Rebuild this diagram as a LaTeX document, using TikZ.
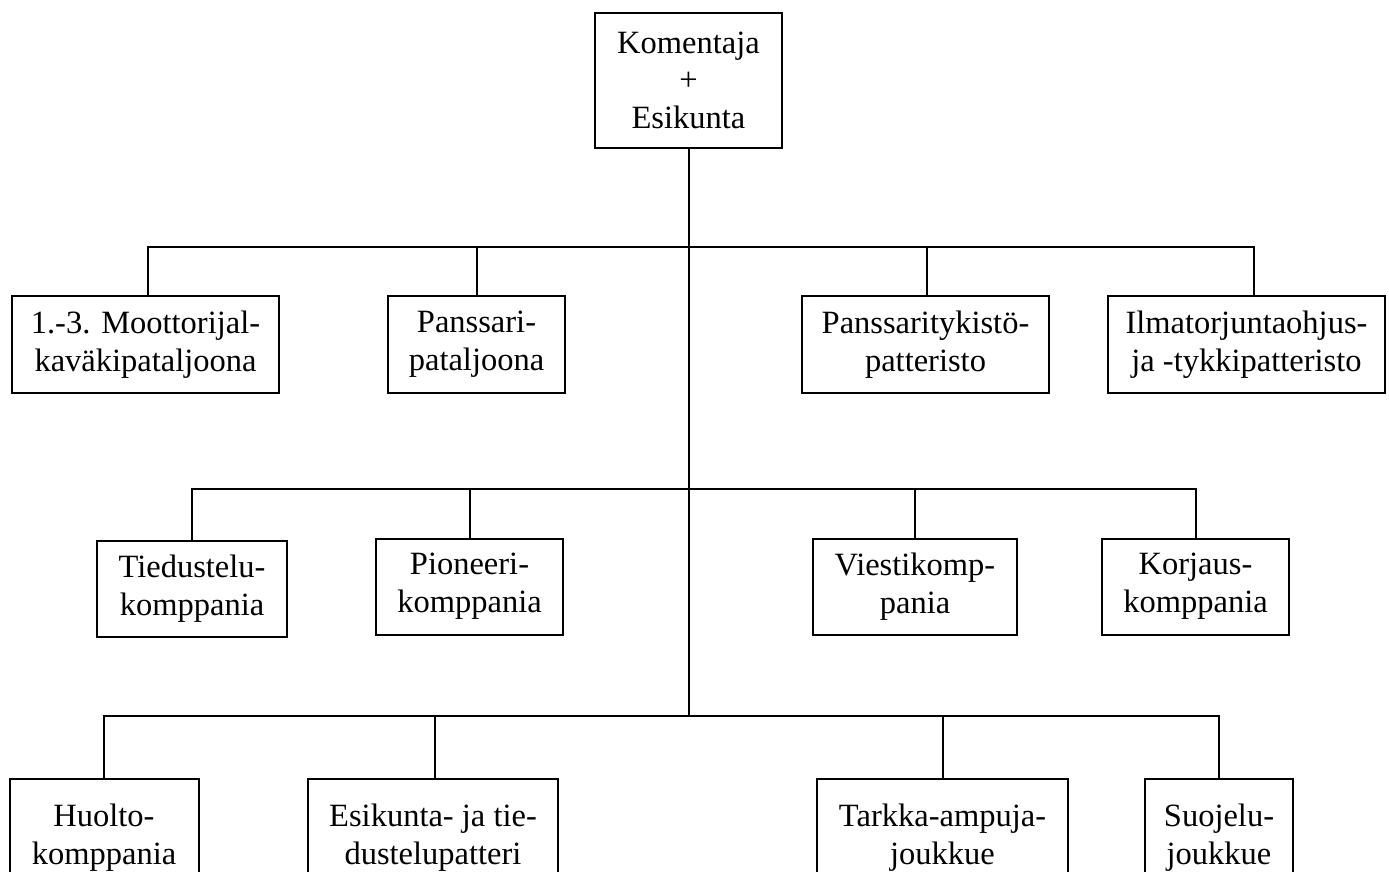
\documentclass[tikz,border=0pt]{standalone}
\usepackage{fontspec}
\setmainfont{Liberation Serif}
\begin{document}
\begin{tikzpicture}[x=1pt,y=-1pt,
  box/.style={draw, line width=2pt, align=center, inner sep=0pt, font=\fontsize{32.5}{38}\selectfont},
  conn/.style={line width=2pt}]
\useasboundingbox (0,0) rectangle (1389,872);
% top
\node[box, minimum width=187pt, minimum height=135pt, font=\fontsize{32.5}{37.5}\selectfont] (top) at (688.5,80.3) {Komentaja\\+\\Esikunta};
% row 1
\node[box, minimum width=267pt, minimum height=97pt] (a) at (145.5,344.5) {1.-3. Moottorijal-\\kaväkipataljoona};
\node[box, minimum width=177pt, minimum height=97pt] (b) at (476.5,344.5) {Panssari-\\pataljoona};
\node[box, minimum width=247pt, minimum height=97pt] (c) at (925.5,344.5) {Panssaritykistö-\\patteristo};
\node[box, minimum width=277pt, minimum height=97pt] (d) at (1246.5,344.5) {Ilmatorjuntaohjus-\\ja -tykkipatteristo};
% row 2
\node[box, minimum width=190pt, minimum height=96pt] (e) at (192,589) {Tiedustelu-\\komppania};
\node[box, minimum width=187pt, minimum height=96pt] (f) at (469.5,586.5) {Pioneeri-\\komppania};
\node[box, minimum width=204pt, minimum height=96pt] (g) at (915,586.5) {Viestikomp-\\pania};
\node[box, minimum width=187pt, minimum height=96pt] (h) at (1195.5,586.5) {Korjaus-\\komppania};
% row 3
\node[box, minimum width=189pt, minimum height=118pt] (i) at (104,838) {Huolto-\\komppania};
\node[box, minimum width=250pt, minimum height=118pt] (j) at (433,838) {Esikunta- ja tie-\\dustelupatteri};
\node[box, minimum width=251pt, minimum height=118pt] (k) at (942.5,838) {Tarkka-ampuja-\\joukkue};
\node[box, minimum width=148pt, minimum height=118pt] (l) at (1219,838) {Suojelu-\\joukkue};
% bus coordinates
\coordinate (b1) at (688.5,247);
\coordinate (b2) at (688.5,489);
\coordinate (b3) at (688.5,716);
% trunk
\draw[conn] (top.south) -- (top.south |- b3);
% row 1 connectors
\draw[conn] ([xshift=2.5pt]a.north) |- (b1) -| ([xshift=7.5pt]d.north);
\draw[conn] (b.north) -- (b.north |- b1);
\draw[conn] ([xshift=1.5pt]c.north) -- ([xshift=1.5pt]c.north |- b1);
% row 2 connectors
\draw[conn] (e.north) |- (b2) -| (h.north);
\draw[conn] (f.north) -- (f.north |- b2);
\draw[conn] (g.north) -- (g.north |- b2);
% row 3 connectors
\draw[conn] (i.north) |- (b3) -| (l.north);
\draw[conn] ([xshift=2pt]j.north) -- ([xshift=2pt]j.north |- b3);
\draw[conn] (k.north) -- (k.north |- b3);
\end{tikzpicture}
\end{document}
